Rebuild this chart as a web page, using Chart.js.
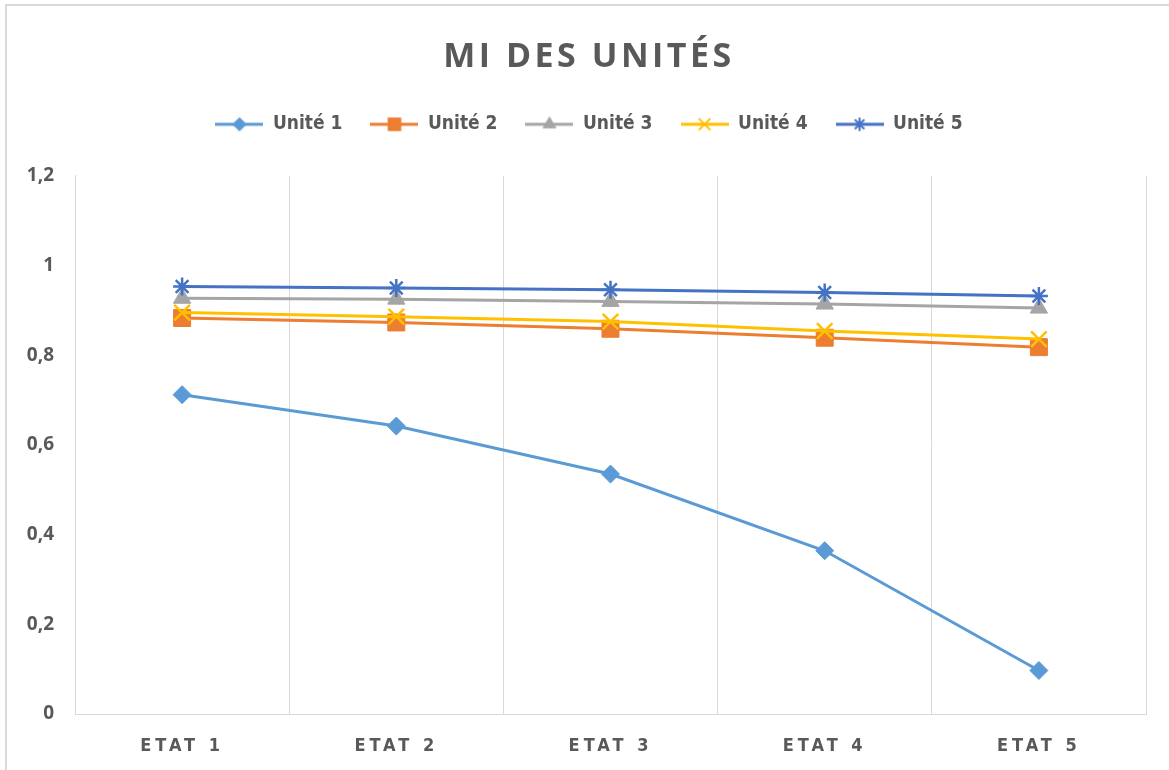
<!DOCTYPE html>
<html>
<head>
<meta charset="utf-8">
<title>MI des unités</title>
<script src="https://cdn.jsdelivr.net/npm/chart.js@4.4.1/dist/chart.umd.min.js"></script>
<style>
  html, body { margin: 0; padding: 0; background: #ffffff; }
  #wrap { position: relative; width: 1169px; height: 770px; overflow: hidden; }
  #frame {
    position: absolute; left: 5px; top: 4px; width: 1200px; height: 800px;
    border-top: 2px solid #d9d9d9; border-left: 2px solid #d9d9d9;
    pointer-events: none;
  }
  canvas { display: block; }
</style>
</head>
<body>
<div id="wrap">
  <canvas id="chart" width="1169" height="770"></canvas>
  <div id="frame"></div>
</div>
<script>
// Categories and series
const categories = ['ETAT 1', 'ETAT 2', 'ETAT 3', 'ETAT 4', 'ETAT 5'];
const seriesNames = ['Unité 1', 'Unité 2', 'Unité 3', 'Unité 4', 'Unité 5'];

const unite1 = [0.712, 0.642, 0.535, 0.364, 0.097];
const unite2 = [0.883, 0.873, 0.859, 0.839, 0.818];
const unite3 = [0.927, 0.925, 0.920, 0.914, 0.905];
const unite4 = [0.895, 0.886, 0.875, 0.854, 0.836];
const unite5 = [0.953, 0.950, 0.946, 0.940, 0.932];

// Value axis
const yMin = 0;
const yMax = 1.2;
const yStep = 0.2;

const seriesValues = [unite1, unite2, unite3, unite4, unite5];
const seriesColors = ['#5B9BD5', '#ED7D31', '#A5A5A5', '#FFC000', '#4472C4'];
const markerStyles = ['rectRot', 'rect', 'triangle', 'crossRot', 'star'];
const markerRadii = [9, 12, 10, 11, 9];
const markerBorders = [1, 1, 1, 2.5, 2.5];

const TEXT = '#595959';
const GRID = '#d9d9d9';
const NARROW = '"DejaVu Sans Condensed", "Roboto", sans-serif';

// Legend swatch: short line with the series marker in the middle
function legendIcon(color, style, radius, bw) {
  const c = document.createElement('canvas');
  c.width = 48; c.height = 24;
  const g = c.getContext('2d');
  g.strokeStyle = color; g.fillStyle = color; g.lineWidth = 3;
  g.beginPath(); g.moveTo(0, 12); g.lineTo(48, 12); g.stroke();
  g.lineWidth = bw;
  Chart.helpers.drawPoint(g, { pointStyle: style, radius: radius, rotation: 0, borderWidth: bw }, 24, 12);
  return c;
}
const legendIcons = seriesColors.map((col, i) =>
  legendIcon(col, markerStyles[i], markerRadii[i] * 0.75, markerBorders[i] * 0.8));

const datasets = seriesNames.map((name, i) => ({
  label: name,
  data: seriesValues[i],
  borderColor: seriesColors[i],
  backgroundColor: seriesColors[i],
  borderWidth: 3,
  pointStyle: markerStyles[i],
  pointRadius: markerRadii[i],
  pointHoverRadius: markerRadii[i],
  pointBackgroundColor: seriesColors[i],
  pointBorderColor: seriesColors[i],
  pointBorderWidth: markerBorders[i],
  tension: 0,
  order: seriesNames.length - i
}));

// Wider letter spacing for the title and category labels
function spaced(obj, method, spacing) {
  const orig = obj[method];
  obj[method] = function (...args) {
    const ctx = this.ctx;
    ctx.save();
    ctx.letterSpacing = spacing;
    orig.apply(this, args);
    ctx.restore();
  };
}
const LEGEND_GAP_BELOW = 32;
const layoutPlugin = {
  id: 'layoutTweaks',
  beforeLayout(chart) {
    const lg = chart.legend;
    if (lg && !lg.$grown) {
      lg.$grown = true;
      const fit = lg.fit;
      lg.fit = function (...args) {
        fit.apply(this, args);
        this.height += LEGEND_GAP_BELOW;
      };
    }
  },
  beforeDraw(chart) {
    if (chart.$spaced) return;
    chart.$spaced = true;
    spaced(chart.titleBlock, 'draw', '3.5px');
    spaced(chart.scales.x, 'drawLabels', '4px');
    // value labels may extend left of the narrow axis box
    chart.scales.y._computeLabelArea = () => undefined;
  }
};

new Chart(document.getElementById('chart'), {
  type: 'line',
  data: { labels: categories, datasets: datasets },
  plugins: [layoutPlugin],
  options: {
    responsive: false,
    animation: false,
    layout: { padding: { left: 32, right: 23, top: 0, bottom: 6 } },
    plugins: {
      tooltip: { enabled: false },
      title: {
        display: true,
        text: 'MI DES UNITÉS',
        color: TEXT,
        font: { family: '"Open Sans", sans-serif', size: 34, weight: 'bold' },
        padding: { top: 37, bottom: 9 }
      },
      legend: {
        display: true,
        position: 'top',
        labels: {
          color: TEXT,
          font: { family: NARROW, size: 19, weight: 'bold' },
          usePointStyle: true,
          pointStyleWidth: 48,
          padding: 28,
          generateLabels(chart) {
            return chart.data.datasets.map((ds, i) => ({
              text: ds.label,
              fillStyle: ds.borderColor,
              strokeStyle: ds.borderColor,
              fontColor: TEXT,
              lineWidth: 0,
              pointStyle: legendIcons[i],
              hidden: false,
              datasetIndex: i
            }));
          }
        }
      }
    },
    scales: {
      x: {
        offset: true,
        grid: { display: true, offset: true, color: GRID, lineWidth: 1, drawTicks: false },
        border: { display: true, color: GRID, width: 1 },
        ticks: {
          color: TEXT,
          padding: 22,
          font: { family: NARROW, size: 18, weight: 'bold' }
        },
        afterFit(scale) { scale.height = 50; }
      },
      y: {
        min: yMin,
        max: yMax,
        grid: { display: false, drawTicks: false },
        border: { display: true, color: GRID, width: 1 },
        ticks: {
          stepSize: yStep,
          color: TEXT,
          padding: 21,
          font: { family: '"Open Sans", sans-serif', size: 19, weight: 'bold' },
          callback(v) { return Number(v.toFixed(1)).toString().replace('.', ','); }
        },
        afterFit(scale) { scale.width = 43; }
      }
    }
  }
});
</script>
</body>
</html>
